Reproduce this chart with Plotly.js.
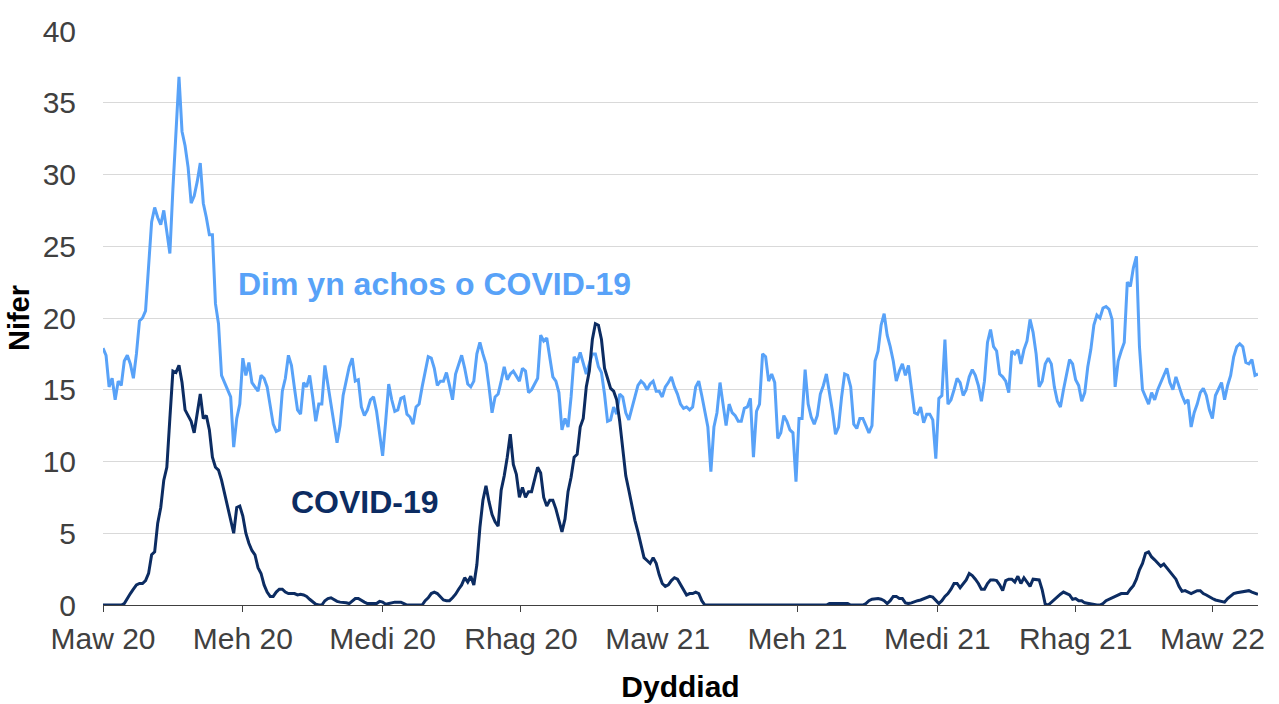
<!DOCTYPE html>
<html>
<head>
<meta charset="utf-8">
<script src="https://cdn.plot.ly/plotly-3.0.1.min.js"></script>
<style>
  html, body { margin: 0; padding: 0; background: #ffffff; }
  #chart { width: 1279px; height: 704px; }
</style>
</head>
<body>
<div id="chart"></div>
<script>
// Daily-chart values read every 2 days, starting 1 March 2020
const startDate = '2020-03-01';
const stepDays = 2;

// "Dim yn achos o COVID-19" (not a COVID-19 case)
const nonCovid = [
  17.9, 17.4, 15.2, 15.8, 14.3, 15.6, 15.3, 17.0, 17.4, 16.8,
  15.8, 17.5, 19.8, 20.0, 20.5, 23.5, 26.7, 27.7, 27.0, 26.5,
  27.5, 26.0, 24.5, 29.0, 32.5, 36.8, 33.0, 32.0, 30.5, 28.0,
  28.5, 29.5, 30.8, 28.0, 27.0, 25.8, 25.8, 21.0, 19.6, 16.0,
  15.5, 15.0, 14.5, 11.0, 13.0, 14.0, 17.2, 16.0, 16.9, 15.5,
  15.2, 14.9, 16.0, 15.8, 15.2, 14.0, 12.6, 12.1, 12.2, 14.9,
  15.8, 17.4, 16.7, 15.1, 13.6,
  13.3, 15.5, 15.2, 16.0, 14.5, 12.8, 14.0, 14.0, 16.7, 15.3,
  13.9, 12.5, 11.3, 12.5, 14.6, 15.6, 16.6, 17.2, 15.6, 15.7,
  13.8, 13.2, 13.6, 14.3, 14.5, 13.5, 12.0, 10.4, 12.8, 15.4,
  14.3, 13.5, 13.6, 14.4, 14.5, 13.3, 13.1, 12.6, 13.8, 14.0,
  15.2, 16.3, 17.3, 17.2, 16.5, 15.3, 15.6, 15.6, 16.2, 15.3,
  14.3, 16.1, 16.8, 17.4, 16.5, 15.4, 15.2, 15.6, 17.5, 18.3,
  17.5, 16.8, 15.2,
  13.4, 14.5, 14.7, 15.6, 16.6, 15.7, 16.1, 16.3, 15.9, 15.6,
  16.5, 16.3, 14.8, 15.0, 15.4, 15.8, 18.8, 18.4, 18.6, 17.3,
  15.9, 15.6, 14.8, 12.2, 13.0, 12.4, 14.5, 17.3, 16.9, 17.6,
  16.9, 16.1, 16.8, 17.5, 17.5, 16.6, 16.2, 14.7, 12.8, 12.9,
  13.8, 13.3, 14.7, 14.5, 13.4, 12.9, 13.7, 14.6, 15.3, 15.6,
  15.4, 15.0, 15.4, 15.6, 14.9, 14.9, 14.5, 15.2, 15.5, 15.9,
  15.2, 14.7,
  14.0, 13.7, 13.8, 13.6, 13.8, 15.2, 15.6, 14.6, 13.6, 12.4,
  9.3, 12.4, 13.4, 15.5, 14.0, 12.5, 14.0, 13.4, 13.2, 12.8,
  12.8, 13.7, 13.8, 14.4, 10.3, 13.5, 14.0, 17.5, 17.3, 15.6,
  16.1, 15.5, 11.6, 12.0, 13.2, 12.8, 12.2, 12.0, 8.6, 13.0,
  13.0, 16.4, 14.0, 13.1, 12.6, 13.2, 14.7, 15.3, 16.1, 14.9,
  13.5, 11.9, 12.4, 14.5, 16.1, 16.0, 15.2, 12.6, 12.3, 13.0,
  13.0, 12.5, 12.0,
  12.5, 17.0, 17.7, 19.5, 20.3, 18.8, 18.0, 17.0, 15.6, 16.3,
  16.8, 16.0, 16.7, 15.0, 13.4, 13.3, 13.8, 12.7, 13.3, 13.3,
  12.9, 10.2, 14.4, 14.6, 18.5, 14.0, 14.3, 15.0, 15.8, 15.5,
  14.6, 15.0, 15.9, 16.4, 16.0, 15.3, 14.2, 15.6, 18.3, 19.2,
  18.0, 17.7, 16.1, 15.9, 15.6, 14.8, 17.7, 17.5, 17.8, 16.8,
  17.8, 18.4, 19.9, 19.0, 17.5, 15.2, 15.6, 16.8, 17.2, 16.8,
  15.2, 14.2,
  13.8, 15.0, 16.1, 17.1, 16.8, 15.7, 15.3, 14.2, 14.8, 16.6,
  17.8, 19.5, 20.2, 20.0, 20.7, 20.8, 20.6, 19.9, 15.2, 17.0,
  17.7, 18.3, 22.5, 22.2, 23.5, 24.3, 18.0, 15.0, 14.5, 14.0,
  14.8, 14.3, 15.0, 15.5, 16.1, 16.5, 15.5, 15.0, 15.9, 15.2,
  14.6, 14.1, 14.3, 12.4, 13.4, 14.0, 14.8, 15.1, 14.6, 13.6,
  13.0, 14.6, 15.1, 15.5, 14.3, 15.3, 16.0, 17.3, 18.0, 18.2,
  18.0, 16.9, 16.8, 17.1, 16.0, 16.1
];

// "COVID-19"
const covid = [
  0, 0, 0, 0, 0, 0, 0,
  0.1, 0.5, 0.8, 1.1, 1.4, 1.5, 1.5, 1.7, 2.2, 3.5,
  3.7, 5.7, 6.8, 8.7, 9.6, 13.0, 16.3, 16.2, 16.7, 15.5,
  13.6, 13.2, 12.8, 12.0, 13.4, 14.7, 13.0, 13.2, 12.2, 10.3,
  9.6, 9.4, 8.7, 7.8, 7.0, 6.0, 5.0, 6.8, 6.9, 6.2,
  5.0, 4.3, 3.8, 3.5, 2.6, 2.2, 1.4, 0.9, 0.6, 0.6,
  0.9, 1.1, 1.1, 0.9, 0.8, 0.8, 0.8, 0.7,
  0.75, 0.7, 0.6, 0.4, 0.25, 0.05, 0, 0, 0.3, 0.45,
  0.5, 0.35, 0.25, 0.2, 0.2, 0.15, 0.1, 0.3, 0.45, 0.45,
  0.3, 0.2, 0.1, 0.1, 0.1, 0.1, 0.25, 0.2, 0.05, 0.1,
  0.2, 0.2, 0.2, 0.2, 0.1, 0, 0, 0, 0, 0,
  0, 0.3, 0.5, 0.8, 0.9, 0.8,
  0.6, 0.35, 0.3, 0.3, 0.5, 0.75, 1.1, 1.4, 1.9, 1.6,
  2.0, 1.4, 2.8, 5.4, 7.3, 8.3, 7.2, 6.3, 5.8, 5.5,
  8.0, 9.0, 10.3, 11.9, 9.8, 9.1, 7.5, 8.2, 7.5, 7.9,
  7.9, 8.7, 9.6, 9.2, 7.5, 6.9, 7.3, 7.3, 6.7, 5.9,
  5.1, 6.0, 7.9, 8.9, 10.3, 10.5, 12.4, 13.0, 15.2, 16.3,
  18.5, 19.6, 19.5, 18.5, 16.5, 15.8, 15.1, 14.9, 14.3, 12.8,
  11.0, 9.0, 8.0, 6.9, 5.9, 5.1, 4.2, 3.3, 3.1, 2.9,
  3.3, 2.9, 2.1, 1.5, 1.3, 1.4, 1.7, 1.9, 1.8, 1.4,
  1.1, 0.7, 0.8, 0.8, 0.9, 0.8, 0.3, 0,
  0, 0, 0, 0, 0, 0, 0, 0, 0, 0,
  0, 0, 0, 0, 0, 0, 0, 0, 0, 0,
  0, 0, 0, 0, 0, 0, 0, 0, 0, 0,
  0, 0, 0, 0, 0, 0, 0, 0, 0, 0,
  0.1, 0.1, 0.1, 0.1, 0.1, 0.1, 0.1,
  0, 0, 0, 0, 0,
  0.1, 0.3, 0.4, 0.45, 0.45, 0.4, 0.3, 0.1, 0.3, 0.6,
  0.6, 0.45, 0.45, 0.15, 0.1, 0.15, 0.25, 0.3, 0.35, 0.45,
  0.55, 0.6, 0.55, 0.3, 0.1, 0.3, 0.6, 0.8, 1.1, 1.5,
  1.5, 1.2, 1.5, 1.75, 2.2, 2.05, 1.8, 1.5, 1.1, 1.1,
  1.5, 1.75, 1.75, 1.7, 1.4, 1.0, 1.7, 1.8, 1.8, 1.6,
  2.0, 1.5, 1.9, 1.6, 1.3, 1.8, 1.75, 1.75, 1.05, 0.05,
  0, 0.2, 0.4, 0.6, 0.75, 0.9, 0.8, 0.7, 0.4, 0.45,
  0.3, 0.3, 0.15, 0.1, 0.05, 0, 0, 0, 0.1, 0.3,
  0.4, 0.5, 0.65, 0.75, 0.8, 0.8, 0.8, 1.1, 1.35, 1.8,
  2.45, 2.9, 3.6, 3.7, 3.35, 3.15, 2.9, 2.7, 2.85, 2.6,
  2.3, 2.1, 1.8, 1.3, 0.95, 1.0, 0.9, 0.8, 0.9, 1.0,
  1.0, 0.8, 0.7, 0.55, 0.45, 0.35, 0.3, 0.2, 0.2, 0.45,
  0.65, 0.8, 0.85, 0.9, 0.9, 0.95, 1.0, 0.9, 0.8, 0.75
];

const tickDates = ['2020-03-01', '2020-06-01', '2020-09-01', '2020-12-01',
  '2021-03-01', '2021-06-01', '2021-09-01', '2021-12-01', '2022-03-01'];
const tickLabels = ['Maw 20', 'Meh 20', 'Medi 20', 'Rhag 20',
  'Maw 21', 'Meh 21', 'Medi 21', 'Rhag 21', 'Maw 22'];

const seriesNames = ['Dim yn achos o COVID-19', 'COVID-19'];

function buildDates(n) {
  const t0 = Date.parse(startDate + 'T00:00:00Z');
  const out = [];
  for (let i = 0; i < n; i++) {
    out.push(new Date(t0 + i * stepDays * 86400000).toISOString().slice(0, 10));
  }
  return out;
}

const lightBlue = '#58a2f8';
const darkBlue = '#0c2c62';
const FONT = 'Liberation Sans, Arial, Helvetica, sans-serif';

const traces = [
  {
    type: 'scatter', mode: 'lines', name: seriesNames[0],
    x: buildDates(nonCovid.length), y: nonCovid,
    line: { color: lightBlue, width: 3 },
    hoverinfo: 'x+y'
  },
  {
    type: 'scatter', mode: 'lines', name: seriesNames[1],
    x: buildDates(covid.length), y: covid,
    line: { color: darkBlue, width: 3 },
    hoverinfo: 'x+y'
  }
];

const layout = {
  width: 1279, height: 704,
  margin: { l: 103, r: 21, t: 31, b: 99, autoexpand: false },
  paper_bgcolor: '#ffffff', plot_bgcolor: '#ffffff',
  showlegend: false,
  font: { family: FONT, color: '#404040', size: 30 },
  xaxis: {
    type: 'date',
    range: ['2020-03-01', '2022-03-31'],
    tickmode: 'array', tickvals: tickDates, ticktext: tickLabels,
    ticks: 'outside', ticklen: 6, tickcolor: '#404040', tickwidth: 1,
    showline: true, linecolor: '#404040', linewidth: 1,
    showgrid: false, zeroline: false,
    tickfont: { family: FONT, size: 30, color: '#404040' },
    ticklabelstandoff: 1,
    title: { text: 'Dyddiad', font: { family: FONT, size: 30, color: '#000000', weight: 'bold' }, standoff: 21 },
    automargin: false
  },
  yaxis: {
    range: [0, 40], dtick: 5, tick0: 0,
    showgrid: true, gridcolor: '#d9d9d9', gridwidth: 1,
    zeroline: false, showline: false, ticks: '',
    tickfont: { family: FONT, size: 30, color: '#404040' },
    ticklabelstandoff: 26,
    title: { text: 'Nifer', font: { family: FONT, size: 29, color: '#000000', weight: 'bold' }, standoff: 4 },
    automargin: false
  },
  annotations: [
    {
      xref: 'paper', yref: 'paper', x: 0.2872, y: 0.5592,
      xanchor: 'center', yanchor: 'middle', showarrow: false,
      text: '<b>' + seriesNames[0] + '</b>',
      font: { family: FONT, size: 32, color: lightBlue }
    },
    {
      xref: 'paper', yref: 'paper', x: 0.2266, y: 0.18,
      xanchor: 'center', yanchor: 'middle', showarrow: false,
      text: '<b>' + seriesNames[1] + '</b>',
      font: { family: FONT, size: 32, color: darkBlue }
    }
  ]
};

Plotly.newPlot('chart', traces, layout, { displayModeBar: false, staticPlot: true });
</script>
</body>
</html>
